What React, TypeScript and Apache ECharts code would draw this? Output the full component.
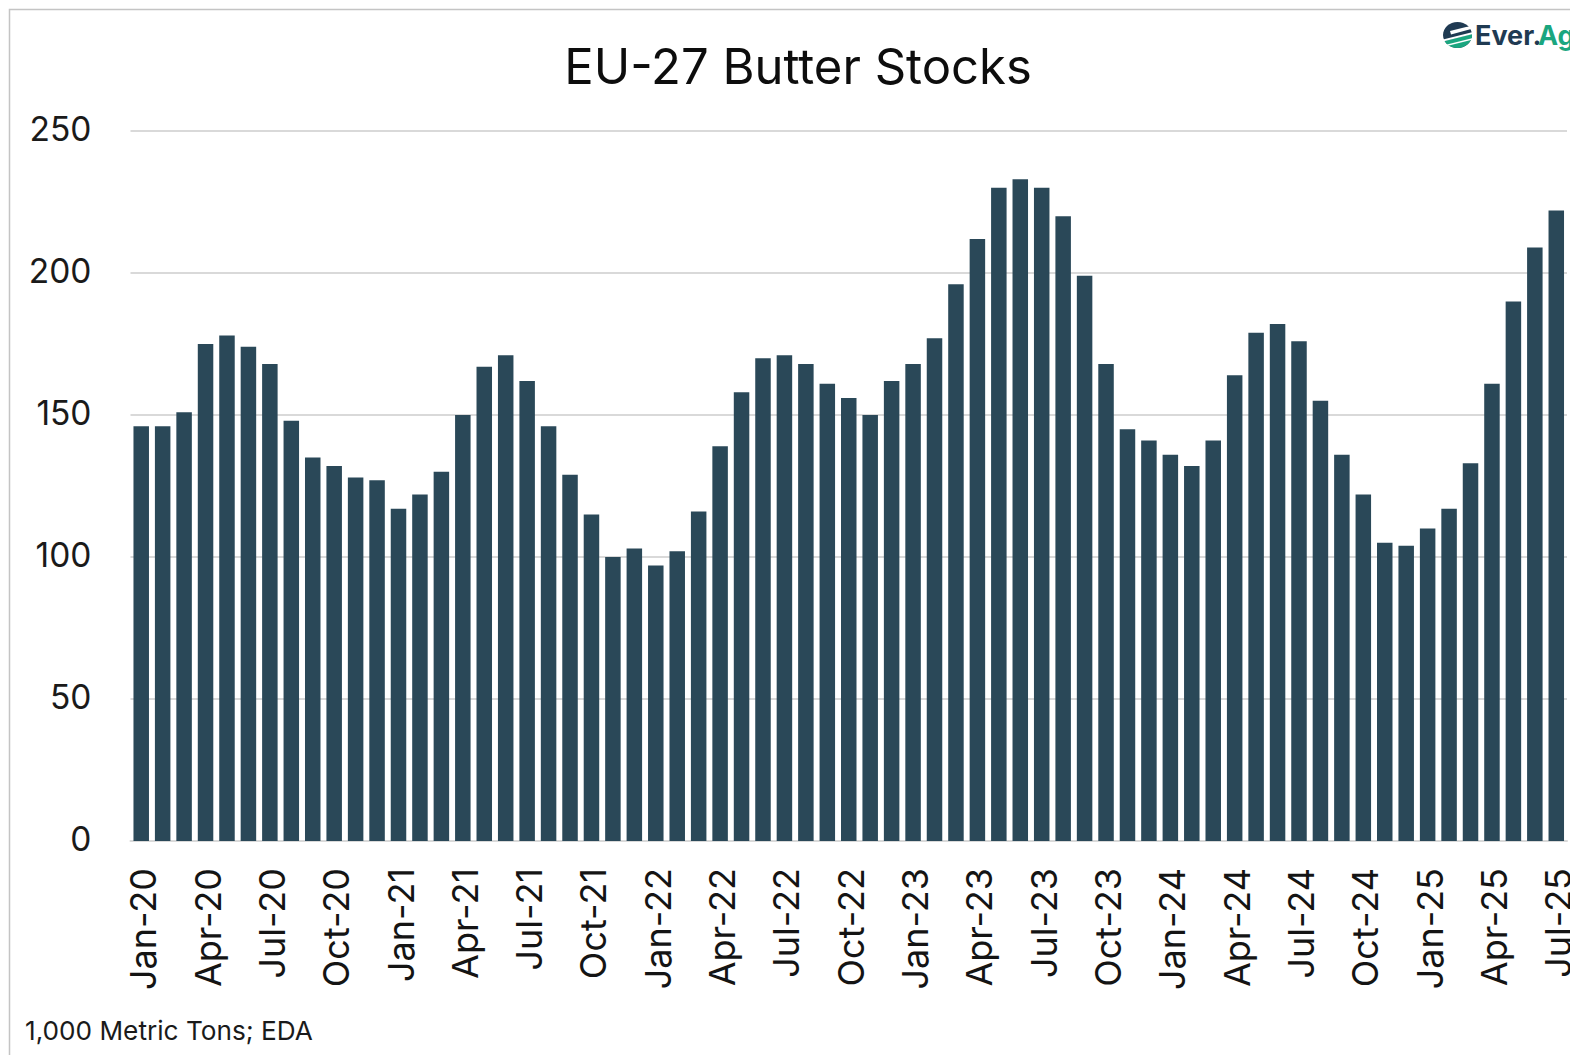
import React, { useEffect, useRef } from "react";
import * as echarts from "echarts";

const years = ["20", "21", "22", "23", "24", "25"];
const months = ["Jan", "Feb", "Mar", "Apr", "May", "Jun", "Jul", "Aug", "Sep", "Oct", "Nov", "Dec"];
const categories: string[] = [];
years.forEach((y) => months.forEach((m) => categories.push(`${m}-${y}`)));
categories.length = 67;

const stocks2020 = [146, 146, 151, 175, 178, 174, 168, 148, 135, 132, 128, 127];
const stocks2021 = [117, 122, 130, 150, 167, 171, 162, 146, 129, 115, 100, 103];
const stocks2022 = [97, 102, 116, 139, 158, 170, 171, 168, 161, 156, 150, 162];
const stocks2023 = [168, 177, 196, 212, 230, 233, 230, 220, 199, 168, 145, 141];
const stocks2024 = [136, 132, 141, 164, 179, 182, 176, 155, 136, 122, 105, 104];
const stocks2025 = [110, 117, 133, 161, 190, 209, 222];
const values = [...stocks2020, ...stocks2021, ...stocks2022, ...stocks2023, ...stocks2024, ...stocks2025];

const FONT = "Inter, 'Noto Sans', sans-serif";
const NAVY = "#1f3a52";
const GREEN = "#1aa67f";

echarts.graphic.registerShape(
  "logoLow",
  echarts.graphic.extendPath("M1444.5 41 L1472 34 A14.5 13 0 0 1 1457.5 48 A14.5 13 0 0 1 1444.5 41 Z", {})
);
echarts.graphic.registerShape(
  "logoSlitA",
  echarts.graphic.extendPath("M1443 39.5 L1473 32 L1473 34 L1443 41.5 Z", {})
);
echarts.graphic.registerShape(
  "logoSlitB",
  echarts.graphic.extendPath("M1443 45.5 L1473 38 L1473 39.5 L1443 47 Z", {})
);
echarts.graphic.registerShape(
  "logoCounter",
  echarts.graphic.extendPath("M1450 31 L1466 27 L1473 26 L1473 28.5 L1451 34.5 Z", {})
);

export default function App() {
  const ref = useRef<HTMLDivElement>(null);
  useEffect(() => {
    document.body.style.margin = "0";
    const chart = echarts.init(ref.current!, null, { renderer: "svg" });
    chart.setOption({
      animation: false,
      backgroundColor: "#ffffff",
      title: {
        text: "EU-27 Butter Stocks",
        left: 793,
        textAlign: "center",
        top: 37,
        textStyle: { fontFamily: FONT, fontSize: 49, fontWeight: 400, color: "#0d0d0d" },
      },
      grid: { left: 130.5, right: 3, top: 131, bottom: 214, containLabel: false, outerBoundsMode: "none" },
      xAxis: {
        type: "category",
        data: categories,
        axisTick: { show: false },
        axisLine: { show: true, lineStyle: { color: "#d9d9d9", width: 2 } },
        axisLabel: {
          interval: 2,
          rotate: 90,
          margin: 27,
          verticalAlign: "top",
          lineHeight: 4,
          fontFamily: FONT,
          fontSize: 36,
          color: "#141414",
        },
      },
      yAxis: {
        type: "value",
        min: 0,
        max: 250,
        interval: 50,
        axisLine: { show: false },
        axisTick: { show: false },
        axisLabel: {
          margin: 39,
          verticalAlign: "bottom",
          lineHeight: 4,
          fontFamily: FONT,
          fontSize: 33.5,
          color: "#1a1a1a",
        },
        splitLine: { lineStyle: { color: "#d9d9d9", width: 2 } },
      },
      series: [
        {
          type: "bar",
          data: values,
          barWidth: 15.5,
          itemStyle: { color: "#2a4858" },
        },
      ],
      graphic: [
        {
          type: "rect",
          shape: { x: 9.5, y: 9.5, width: 1700, height: 1200 },
          style: { fill: "none", stroke: "#c4c4c4", lineWidth: 1.5 },
          silent: true,
        },
        {
          type: "text",
          x: 25,
          y: 1017,
          style: { text: "1,000 Metric Tons; EDA", fontFamily: FONT, fontSize: 26.2, fill: "#1a1a1a" },
        },
        { type: "ellipse", shape: { cx: 1457.5, cy: 35, rx: 14.5, ry: 13 }, style: { fill: NAVY } },
        { type: "logoLow", style: { fill: GREEN } },
        { type: "logoCounter", style: { fill: "#ffffff" } },
        { type: "logoSlitA", style: { fill: "#ffffff" } },
        { type: "logoSlitB", style: { fill: "#ffffff" } },
        {
          type: "text",
          x: 1475,
          y: 22,
          style: { text: "Ever.", fontFamily: FONT, fontSize: 27, fontWeight: 700, fill: NAVY },
        },
        {
          type: "text",
          x: 1538,
          y: 22,
          style: { text: "Ag", fontFamily: FONT, fontSize: 27, fontWeight: 700, fill: GREEN },
        },
      ],
    });
    return () => chart.dispose();
  }, []);
  return <div ref={ref} style={{ width: 1570, height: 1055 }} />;
}
